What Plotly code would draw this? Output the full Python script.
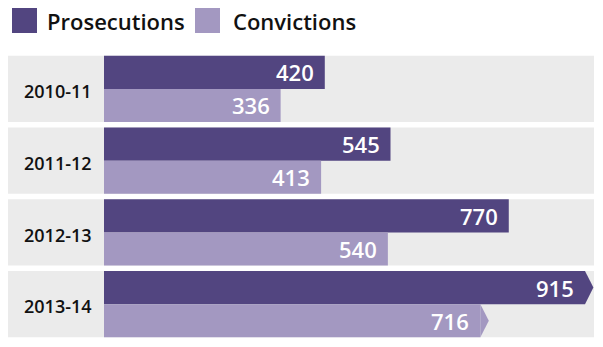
import plotly.graph_objects as go

categories = ["2010-11", "2011-12", "2012-13", "2013-14"]
prosecutions = [420, 545, 770, 915]
convictions = [336, 413, 540, 716]
series_names = ["Prosecutions", "Convictions"]

DARK = "#524580"
LIGHT = "#A398C1"
BAND = "#EBEBEB"
FONT = "Open Sans"

W, H = 603, 347
ML, MR, MT, MB = 8, 9, 53, 7
PW = W - ML - MR
PH = H - MT - MB
def px(x):
    return (x - ML) / PW
def py(y):
    return (H - MB - y) / PH

half = 0.46
ypos = list(range(len(categories)))

fig = go.Figure()
fig.add_trace(go.Bar(y=ypos, x=prosecutions, orientation="h", name=series_names[0],
                     marker=dict(color=DARK, line=dict(width=0)), width=half, offset=-half,
                     hoverinfo="x"))
fig.add_trace(go.Bar(y=ypos, x=convictions, orientation="h", name=series_names[1],
                     marker=dict(color=LIGHT, line=dict(width=0)), width=half, offset=0,
                     hoverinfo="x"))

shapes = []
for i in ypos:
    shapes.append(dict(type="rect", xref="paper", yref="y", x0=0, x1=1,
                       y0=i - half, y1=i + half, fillcolor=BAND, line=dict(width=0),
                       layer="below"))
# pointed ends on latest year
last = ypos[-1]
tip = 16
for v, y0, color in [(prosecutions[-1], last - half, DARK), (convictions[-1], last, LIGHT)]:
    shapes.append(dict(type="path", xref="x", yref="y",
                       path=f"M {v},{y0} L {v + tip},{y0 + half / 2} L {v},{y0 + half} Z",
                       fillcolor=color, line=dict(width=0), layer="above"))

# legend
for x0, color in [(12, DARK), (195, LIGHT)]:
    shapes.append(dict(type="rect", xref="paper", yref="paper", x0=px(x0), x1=px(x0 + 25),
                       y0=py(33), y1=py(8), fillcolor=color, line=dict(width=0)))

annotations = []
for x0, name in [(45, series_names[0]), (231, series_names[1])]:
    annotations.append(dict(xref="paper", yref="paper", x=px(x0), y=py(21), text=name,
                            showarrow=False, xanchor="left", yanchor="middle",
                            font=dict(family=FONT, size=22, color="#111111", weight=600)))
for i, c in zip(ypos, categories):
    annotations.append(dict(xref="paper", yref="y", x=px(58), y=i + 0.03, text=c,
                            showarrow=False, xanchor="center", yanchor="middle",
                            font=dict(family=FONT, size=18, color="#111111", weight=600)))
for i in ypos:
    for v, yc in [(prosecutions[i], i - half / 2), (convictions[i], i + half / 2)]:
        annotations.append(dict(xref="x", yref="y", x=v, y=yc, text=str(v), showarrow=False,
                                xanchor="right", yanchor="middle", xshift=-9,
                                font=dict(family=FONT, size=22, color="white", weight=600)))

zero_px = 104
scale = (585 - zero_px) / prosecutions[-1]
xmin = -(zero_px - ML) / scale
xmax = xmin + PW / scale

fig.update_layout(
    width=W, height=H, margin=dict(l=ML, r=MR, t=MT, b=MB),
    paper_bgcolor="white", plot_bgcolor="white",
    barmode="overlay", showlegend=False,
    xaxis=dict(range=[xmin, xmax], visible=False, fixedrange=True),
    yaxis=dict(range=[3.5, -0.5], visible=False, fixedrange=True),
    shapes=shapes, annotations=annotations,
)
fig.write_html("out.html")
